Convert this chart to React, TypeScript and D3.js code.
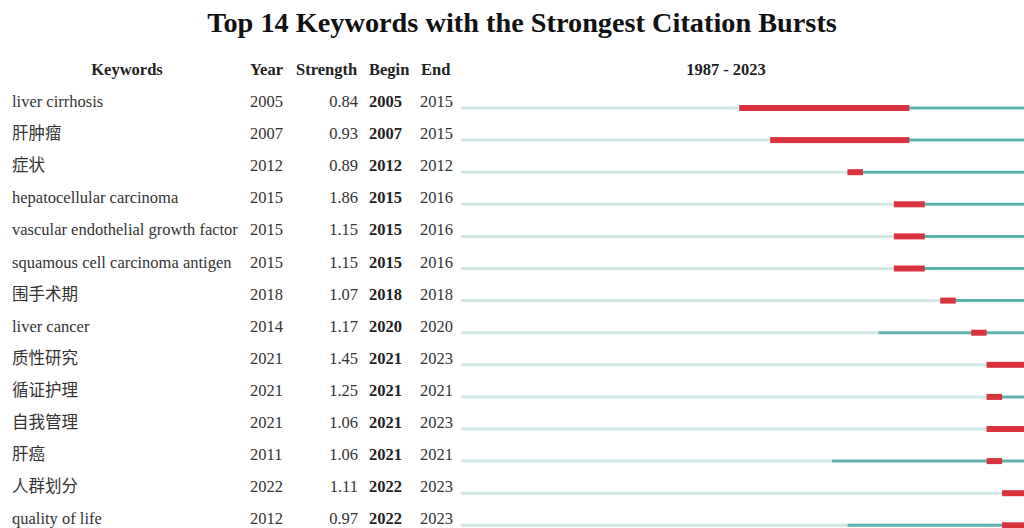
import React from "react";
import * as d3 from "d3";

const keywords = [
  "liver cirrhosis",
  "肝肿瘤",
  "症状",
  "hepatocellular carcinoma",
  "vascular endothelial growth factor",
  "squamous cell carcinoma antigen",
  "围手术期",
  "liver cancer",
  "质性研究",
  "循证护理",
  "自我管理",
  "肝癌",
  "人群划分",
  "quality of life",
];
const years = [2005, 2007, 2012, 2015, 2015, 2015, 2018, 2014, 2021, 2021, 2021, 2011, 2022, 2012];
const strengths = [0.84, 0.93, 0.89, 1.86, 1.15, 1.15, 1.07, 1.17, 1.45, 1.25, 1.06, 1.06, 1.11, 0.97];
const begins = [2005, 2007, 2012, 2015, 2015, 2015, 2018, 2020, 2021, 2021, 2021, 2021, 2022, 2022];
const ends = [2015, 2015, 2012, 2016, 2016, 2016, 2018, 2020, 2023, 2021, 2023, 2021, 2023, 2023];
const rangeStart = 1987;
const rangeEnd = 2023;

const W = 1024;
const H = 528;
const FONT = "'Liberation Serif', 'Times New Roman', 'Noto Sans CJK SC', serif";
const FS = 16.5;

export default function App() {
  const x = d3.scaleLinear().domain([rangeStart, rangeEnd + 1]).range([461, 1033]);
  const y = d3.scaleLinear().domain([0, 1]).range([107, 139.1]);
  const fmt = d3.format(".2f");
  return (
    <svg width={W} height={H} style={{ position: "absolute", left: 0, top: 0, display: "block" }} fontFamily={FONT}>
      <rect width={W} height={H} fill="#fff" />
      <text x={522} y={32} textAnchor="middle" fontSize={28.3} fontWeight="bold" fill="#111">
        Top 14 Keywords with the Strongest Citation Bursts
      </text>
      <g fontSize={FS} fontWeight="bold" fill="#222">
        <text x={127} y={75} textAnchor="middle">Keywords</text>
        <text x={250} y={75}>Year</text>
        <text x={296} y={75}>Strength</text>
        <text x={369} y={75}>Begin</text>
        <text x={421} y={75}>End</text>
        <text x={726} y={75} textAnchor="middle">{`${rangeStart} - ${rangeEnd}`}</text>
      </g>
      {keywords.map((k, i) => {
        const yy = y(i);
        const ly = yy + 1;
        return (
          <g key={i}>
            <text x={12} y={yy} fontSize={FS} fill="#333">{k}</text>
            <text x={250} y={yy} fontSize={FS} fill="#333">{years[i]}</text>
            <text x={358} y={yy} fontSize={FS} fill="#333" textAnchor="end">{fmt(strengths[i])}</text>
            <text x={369} y={yy} fontSize={FS} fill="#222" fontWeight="bold">{begins[i]}</text>
            <text x={420} y={yy} fontSize={FS} fill="#333">{ends[i]}</text>
            <line x1={x(rangeStart)} x2={x(years[i])} y1={ly} y2={ly} stroke="#d3e6e6" strokeWidth={3} />
            <line x1={x(years[i])} x2={x(rangeEnd + 1)} y1={ly} y2={ly} stroke="#5eb2b0" strokeWidth={3} />
            <rect x={x(begins[i])} y={ly - 3} width={x(ends[i] + 1) - x(begins[i])} height={6} fill="#d8333d" />
          </g>
        );
      })}
    </svg>
  );
}
